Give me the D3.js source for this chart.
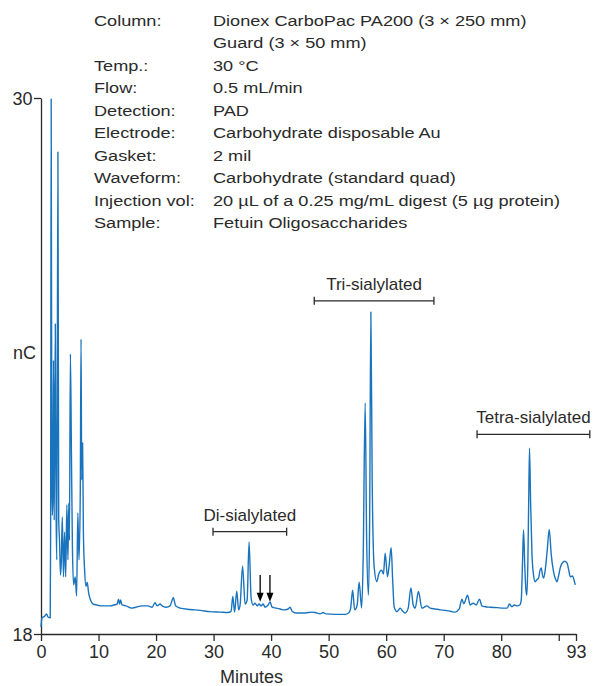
<!DOCTYPE html>
<html><head><meta charset="utf-8">
<script src="https://cdn.jsdelivr.net/npm/d3@7"></script>
<style>
body{margin:0;background:#fff}
text{font-family:"Liberation Sans",Arial,sans-serif;fill:#2a2a2a}
</style>
</head><body>
<svg id="c" width="598" height="686"></svg>
<script>
// ---- conditions text ----
const infoLabels = ["Column:", "", "Temp.:", "Flow:", "Detection:", "Electrode:", "Gasket:", "Waveform:", "Injection vol:", "Sample:"];
const infoValues = ["Dionex CarboPac PA200 (3 × 250 mm)", "Guard (3 × 50 mm)", "30 °C", "0.5 mL/min", "PAD",
  "Carbohydrate disposable Au", "2 mil", "Carbohydrate (standard quad)",
  "20 µL of a 0.25 mg/mL digest (5 µg protein)", "Fetuin Oligosaccharides"];

// ---- axes ----
const xDomain = [0, 93];
const yDomain = [18, 30];
const xTicks = [0, 10, 20, 30, 40, 50, 60, 70, 80, 90, 93];
const xTickLabels = ["0", "10", "20", "30", "40", "50", "60", "70", "80", "", "93"];
const yTicks = [18, 30];
const yTickLabels = ["18", "30"];
const xTitle = "Minutes";
const yTitle = "nC";

// ---- chromatogram (minutes, nC) ----
const times = [0,0.17,0.64,0.96,1.22,1.60,1.67,1.77,1.88,1.97,2.05,2.17,2.30,2.49,2.64,2.75,2.94,3.08,3.22,3.39,3.53,3.70,3.91,4.10,4.30,4.49,4.68,4.83,4.94,5.11,5.29,5.46,5.67,5.95,6.19,6.40,6.61,6.83,6.96,7.08,7.23,7.37,7.58,7.83,8.03,8.28,8.61,9.04,9.74,10.43,
11.30,12.00,12.70,13.22,13.48,13.65,13.83,14.09,14.78,15.74,16.52,17.57,18.61,19.30,19.83,20.17,20.70,21.04,21.74,22.43,23.01,23.39,24.17,25.91,27.65,29.39,31.13,32.52,33.04,33.34,33.65,34.03,34.35,34.61,35.04,35.48,35.83,36.17,36.52,36.87,37.22,37.57,37.91,38.26,38.61,38.96,39.48,39.83,40.17,40.87,41.57,42.26,42.96,43.30,43.65,44.35,45.91,47.13,47.65,48.52,49.04,49.57,51.13,52.87,53.48,53.83,54.17,54.52,54.96,55.30,55.74,56.00,56.35,56.61,56.92,57.13,57.34,57.57,57.91,58.38,58.70,59.22,59.53,59.83,60.23,60.52,60.87,61.13,61.39,61.86,62.17,62.43,62.87,63.30,63.83,64.30,64.70,65.04,65.62,66.21,66.61,67.08,67.65,68.52,69.39,70.26,71.13,72.00,72.70,73.17,73.48,73.74,74.14,74.61,75.13,75.65,76.23,76.64,77.22,78.09,79.30,80.35,81.04,81.44,81.86,82.31,82.73,83.22,83.48,83.69,83.88,84.09,84.30,84.47,84.64,84.78,84.92,85.10,85.34,85.62,85.91,86.17,86.49,86.75,86.96,87.17,87.36,87.65,88.00,88.35,88.70,89.10,89.39,89.68,90.00,90.26,90.56,91.01,91.43,91.74,92.00,92.40,92.61,92.87];
const signal = [18.16,18.36,18.40,18.45,18.38,18.36,20.17,29.98,21.67,20.66,20.89,24.13,20.55,24.94,20.55,19.66,28.79,20.55,20.10,19.32,19.61,20.62,19.28,20.28,19.28,20.89,19.66,20.93,20.10,24.27,22.05,19.97,19.10,19.28,18.85,20.71,19.66,21.22,24.60,21.45,22.28,20.26,19.43,19.07,19.16,18.92,18.76,18.67,18.65,18.63,
18.63,18.63,18.65,18.67,18.78,18.67,18.76,18.65,18.63,18.58,18.60,18.63,18.63,18.60,18.70,18.63,18.67,18.63,18.60,18.63,18.81,18.63,18.58,18.55,18.53,18.50,18.49,18.48,18.51,18.84,18.49,18.96,18.54,18.65,19.52,18.67,18.76,20.06,18.81,18.65,18.69,18.63,18.67,18.63,18.67,18.60,18.65,18.72,18.60,18.58,18.56,18.54,18.56,18.60,18.51,18.47,18.47,18.49,18.48,18.45,18.48,18.45,18.44,18.44,18.47,18.58,18.98,18.54,18.65,19.16,18.58,19.66,23.17,20.10,18.87,20.55,25.21,21.45,19.51,19.17,19.34,19.43,19.34,19.81,19.28,19.54,19.93,19.21,18.61,18.50,18.54,18.58,18.51,18.47,18.58,19.03,18.65,18.58,18.95,18.58,18.60,18.63,18.58,18.56,18.54,18.53,18.51,18.49,18.56,18.78,18.68,18.74,18.87,18.65,18.69,18.65,18.78,18.63,18.61,18.60,18.59,18.58,18.58,18.67,18.61,18.65,18.63,18.65,18.76,19.54,20.33,19.54,18.98,18.87,19.66,21.00,22.16,21.00,19.81,19.32,19.17,19.21,19.25,19.43,19.48,19.32,19.25,19.43,19.88,20.34,19.77,19.39,19.25,19.17,19.32,19.48,19.58,19.63,19.59,19.43,19.28,19.30,19.23,19.10];

// ---- group annotations ----
const groupNames = ["Di-sialylated", "Tri-sialylated", "Tetra-sialylated"];
const groupStart = [29.9, 47.5, 75.8];
const groupEnd = [42.7, 68.3, 95.4];
const groupLevel = [20.29, 25.46, 22.47];

// ---- arrows ----
const arrowTimes = [38.1, 39.8];
const arrowTop = 19.32;
const arrowTip = 18.72;

const svg = d3.select("#c");
const W = 598, H = 686;
const m = {left: 41, right: 22, top: 98, bottom: 52};
const x = d3.scaleLinear().domain(xDomain).range([m.left, W - m.right]);
const y = d3.scaleLinear().domain(yDomain).range([H - m.bottom, m.top]);
const ink = "#2a2a2a";
const blue = "#1a74bd";
const fam = '"Liberation Sans",Arial,sans-serif';

// info block (wide, light face in the original: stretch horizontally)
const info = svg.append("g");
infoLabels.forEach((l, i) => {
  const yy = 26 + i * 22.45;
  info.append("text").attr("transform", `translate(94,${yy}) scale(1.21,1)`).attr("font-size", 15).text(l);
  info.append("text").attr("transform", `translate(213,${yy}) scale(1.21,1)`).attr("font-size", 15).text(infoValues[i]);
});

// axes
const xAxis = svg.append("g").attr("transform", `translate(0,${y(18)})`)
  .call(d3.axisBottom(x).tickValues(xTicks).tickFormat((d, i) => xTickLabels[i]).tickSize(7).tickPadding(4.5).tickSizeOuter(0));
const yAxis = svg.append("g").attr("transform", `translate(${x(0)},0)`)
  .call(d3.axisLeft(y).tickValues(yTicks).tickFormat((d, i) => yTickLabels[i]).tickSize(7).tickPadding(1.5).tickSizeOuter(0));
[xAxis, yAxis].forEach(a => {
  a.select(".domain").attr("stroke", ink).attr("stroke-width", 1.3);
  a.selectAll(".tick line").attr("stroke", ink).attr("stroke-width", 1.3);
  a.selectAll(".tick text").attr("font-size", 18).attr("fill", ink).style("font-family", fam);
});
yAxis.selectAll(".tick text").attr("dy", "0.36em");

svg.append("text").attr("x", x(36.6)).attr("y", 683).attr("text-anchor", "middle").attr("font-size", 18).text(xTitle);
svg.append("text").attr("x", 36).attr("y", y(24.3) + 6).attr("text-anchor", "end").attr("font-size", 18).text(yTitle);

// trace
const data = times.map((t, i) => [t, signal[i]]);
svg.append("path").datum(data)
  .attr("fill", "none").attr("stroke", blue).attr("stroke-width", 1.4).attr("stroke-linejoin", "round")
  .attr("d", d3.line().x(d => x(d[0])).y(d => y(d[1])).curve(d3.curveMonotoneX));

// brackets
groupNames.forEach((n, i) => {
  const g = svg.append("g");
  const yy = y(groupLevel[i]);
  const x1 = x(groupStart[i]), x2 = x(groupEnd[i]);
  g.append("line").attr("x1", x1).attr("x2", x2).attr("y1", yy).attr("y2", yy).attr("stroke", ink).attr("stroke-width", 1.3);
  [x1, x2].forEach(xx => g.append("line").attr("x1", xx).attr("x2", xx).attr("y1", yy - 4).attr("y2", yy + 4).attr("stroke", ink).attr("stroke-width", 1.3));
  g.append("text").attr("x", (x1 + x2) / 2).attr("y", yy - 11).attr("text-anchor", "middle").attr("font-size", 17).text(n);
});

// arrows
arrowTimes.forEach(t => {
  const xx = x(t), y0 = y(arrowTop), y1 = y(arrowTip);
  svg.append("line").attr("x1", xx).attr("x2", xx).attr("y1", y0).attr("y2", y1 - 6).attr("stroke", "#000").attr("stroke-width", 1.3);
  svg.append("path").attr("d", `M${xx - 3.5},${y1 - 9}L${xx + 3.5},${y1 - 9}L${xx},${y1}Z`).attr("fill", "#000");
});
</script>
</body></html>
